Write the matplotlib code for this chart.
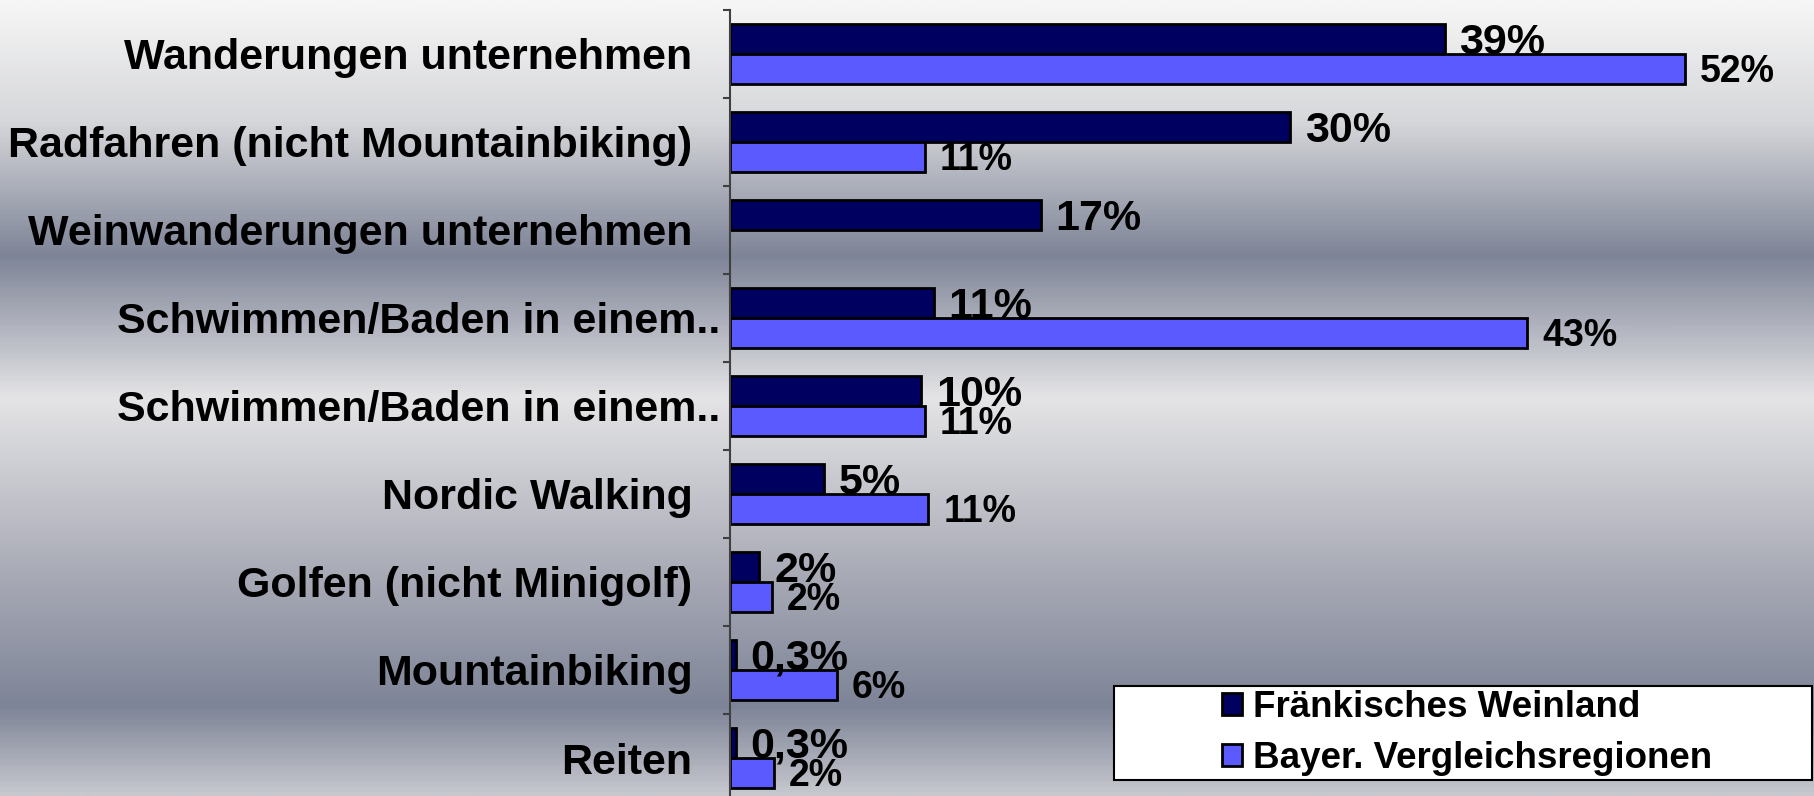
import numpy as np
import matplotlib.pyplot as plt
from matplotlib.colors import LinearSegmentedColormap
from matplotlib.patches import Rectangle

# data
categories = ['Wanderungen unternehmen', 'Radfahren (nicht Mountainbiking)',
              'Weinwanderungen unternehmen', 'Schwimmen/Baden in einem..',
              'Schwimmen/Baden in einem..', 'Nordic Walking',
              'Golfen (nicht Minigolf)', 'Mountainbiking', 'Reiten']
weinland = [38.9, 30.5, 16.9, 11.1, 10.4, 5.1, 1.6, 0.3, 0.3]
bayern = [52.0, 10.6, np.nan, 43.4, 10.6, 10.8, 2.3, 5.8, 2.4]
weinland_labels = ['39%', '30%', '17%', '11%', '10%', '5%', '2%', '0,3%', '0,3%']
bayern_labels = ['52%', '11%', '', '43%', '11%', '11%', '2%', '6%', '2%']
series_names = ['Fränkisches Weinland', 'Bayer. Vergleichsregionen']

plt.rcParams['font.family'] = ['Liberation Sans', 'DejaVu Sans']
plt.rcParams['font.weight'] = 'bold'

W, H = 1814, 796
fig = plt.figure(figsize=(W / 100, H / 100), dpi=100)

# chrome-like background gradient
bg = fig.add_axes([0, 0, 1, 1], zorder=-10)
cmap = LinearSegmentedColormap.from_list('chrome', [
    (0.0, '#f6f6f6'), (0.15, '#d6d7da'), (0.32, '#7e8497'),
    (0.50, '#e4e4e6'), (0.72, '#a9abb6'), (0.89, '#7e8497'), (1.0, '#c6c8ce')])
bg.imshow(np.linspace(0, 1, 400)[:, None], aspect='auto', cmap=cmap,
          extent=[0, 1, 0, 1], origin='upper')
bg.axis('off')

# plot area: axis at x=730 px, categories 88 px tall from y=10 px
ax = fig.add_axes([730 / W, (H - 802) / H, (W - 730) / W, 792 / H])
ax.set_facecolor('none')

y = np.arange(len(categories))
h = 0.34
b1 = ax.barh(y - h / 2, weinland, height=h, color='#000060',
             edgecolor='black', linewidth=2, label=series_names[0])
b2 = ax.barh(y + h / 2, bayern, height=h, color='#5a5aff',
             edgecolor='black', linewidth=2, label=series_names[1])

for i in range(len(categories)):
    ax.text(weinland[i] + 0.8, y[i] - h / 2 + 0.04, weinland_labels[i],
            va='center', ha='left', fontsize=31, fontweight='bold')
    if bayern_labels[i]:
        ax.text(bayern[i] + 0.8, y[i] + h / 2 + 0.03, bayern_labels[i],
                va='center', ha='left', fontsize=27, fontweight='bold')

ax.set_xlim(0, 59)
ax.set_ylim(len(categories) - 0.5, -0.5)
ax.set_xticks([])
ax.set_yticks(y)
ax.set_yticklabels(categories, fontsize=31, fontweight='bold')
ax.set_yticks(np.arange(len(categories) + 1) - 0.5, minor=True)
ax.tick_params(axis='y', which='major', length=0, pad=27)
ax.tick_params(axis='y', which='minor', length=5, width=1.5, color='#404040',
               direction='out')
for i, t in enumerate(ax.yaxis.get_major_ticks()):
    if categories[i].endswith('..'):
        t.set_pad(7)
for s in ['top', 'right', 'bottom']:
    ax.spines[s].set_visible(False)
ax.spines['left'].set_color('#404040')
ax.spines['left'].set_linewidth(1.5)

# legend box
fig.patches.append(Rectangle((1114 / W, (H - 780) / H), 698 / W, 94 / H,
                             transform=fig.transFigure, facecolor='white',
                             edgecolor='black', linewidth=1.5, zorder=5))
leg = fig.legend(handles=[b1, b2], loc='center left',
                 bbox_to_anchor=(1222 / W, 1 - 733 / H), frameon=False,
                 fontsize=26.5, handlelength=0.55, handleheight=0.55,
                 handletextpad=0.28, labelspacing=0.45, borderpad=0,
                 borderaxespad=0)
leg.set_zorder(6)
for t in leg.get_texts():
    t.set_fontweight('bold')

fig.savefig('out.png', dpi=100)
